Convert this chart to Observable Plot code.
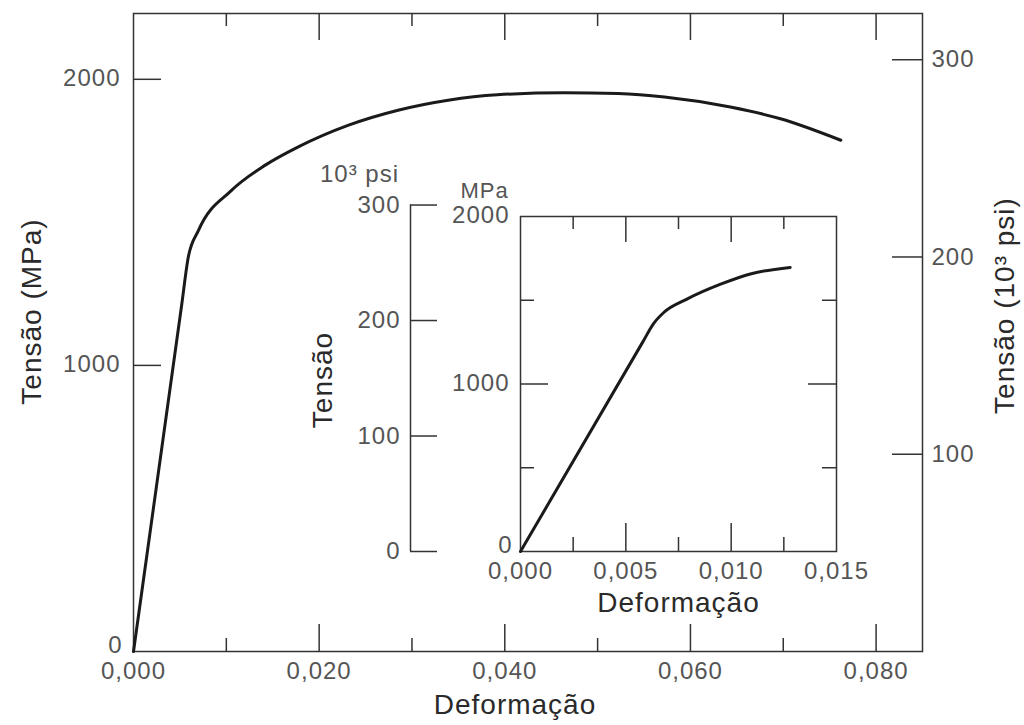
<!DOCTYPE html>
<html><head><meta charset="utf-8">
<script src="https://cdn.jsdelivr.net/npm/d3@7"></script>
<script src="https://cdn.jsdelivr.net/npm/@observablehq/plot@0.6"></script>
<style>
html,body{margin:0;padding:0;background:#fff;}
#wrap{position:relative;width:1024px;height:725px;overflow:hidden;background:#fff;}
#wrap svg{position:absolute;overflow:visible;}
</style></head><body><div id="wrap"></div>
<script>
// Main curve (strain, stress MPa)
const mainStrain = [0, 0.0052, 0.0059, 0.0070, 0.0105, 0.0142, 0.0177, 0.0231, 0.0285, 0.0339, 0.0392, 0.0464, 0.0522, 0.0572, 0.0643, 0.0697, 0.0762];
const mainStress = [0, 1214, 1378, 1472, 1610, 1700, 1763, 1839, 1892, 1927, 1946, 1953, 1950, 1938, 1903, 1862, 1787];
// Inset curve
const insetStrain = [0, 0.0058, 0.0063, 0.0068, 0.0079, 0.0095, 0.0110, 0.0128];
const insetStress = [0, 1250, 1358, 1427, 1507, 1596, 1660, 1696];
// Ticks
const mainXTicks = [0, 0.02, 0.04, 0.06, 0.08];
const mainXMinor = [0.01, 0.03, 0.05, 0.07];
const mainYTicks = [0, 1000, 2000];
const psiTicks = [100, 200, 300];
const insetXTicks = [0, 0.005, 0.010, 0.015];
const insetXMinor = [0.0025, 0.0075, 0.0125];
const insetYTicks = [0, 1000, 2000];
const insetYMinor = [500, 1500];
const insetPsiTicks = [0, 100, 200, 300];
const MPA_PER_KSI = 6.89476;

const fmtStrain = d => d.toFixed(3).replace(".", ",");
const toMPa = k => k * MPA_PER_KSI;
const LINE = "#333";
const TXT = "#555";
const TITLE = "#2a2a2a";
const FONT = "'Liberation Sans', Arial, sans-serif";

const wrap = document.getElementById("wrap");

// ---------- Main chart ----------
const W = 1024, H = 725, mL = 133, mR = 102, mT = 13, mB = 74;
const iW = W - mL - mR, iH = H - mT - mB;
const mainData = mainStrain.map((s, i) => ({s, t: mainStress[i]}));

const main = Plot.plot({
  width: W, height: H,
  marginLeft: mL, marginRight: mR, marginTop: mT, marginBottom: mB,
  style: {fontFamily: FONT, fontSize: "24px", letterSpacing: "1px", background: "transparent"},
  x: {domain: [0, 0.085]},
  y: {domain: [0, 2230]},
  marks: [
    Plot.frame({stroke: LINE, strokeWidth: 1.5}),
    Plot.tickY(mainYTicks.filter(d => d > 0), {y: d => d, insetRight: iW - 28, stroke: LINE, strokeWidth: 1.5}),
    Plot.tickY(psiTicks.map(toMPa), {y: d => d, insetLeft: iW - 30, stroke: LINE, strokeWidth: 1.5}),
    Plot.tickX(mainXTicks.filter(d => d > 0), {x: d => d, insetBottom: iH - 27, stroke: LINE, strokeWidth: 1.5}),
    Plot.tickX(mainXMinor, {x: d => d, insetBottom: iH - 13, stroke: LINE, strokeWidth: 1.5}),
    Plot.tickX(mainXTicks.filter(d => d > 0), {x: d => d, insetTop: iH - 27, stroke: LINE, strokeWidth: 1.5}),
    Plot.tickX(mainXMinor, {x: d => d, insetTop: iH - 13, stroke: LINE, strokeWidth: 1.5}),
    Plot.line(mainData, {x: "s", y: "t", stroke: "#1a1a1a", strokeWidth: 3, curve: "monotone-x"}),
    Plot.axisX({ticks: mainXTicks, tickFormat: fmtStrain, tickSize: 0, tickPadding: 10, label: null, fill: TXT, fontSize: 24}),
    Plot.axisY({anchor: "left", ticks: mainYTicks.filter(d => d > 0), tickFormat: d => String(d), tickSize: 0, tickPadding: 13, dy: -1, label: null, fill: TXT, fontSize: 24}),
    Plot.axisY({anchor: "left", ticks: [0], tickFormat: d => String(d), tickSize: 0, tickPadding: 11, dy: -6, label: null, fill: TXT, fontSize: 24}),
    Plot.axisY({anchor: "right", ticks: psiTicks.map(toMPa), tickFormat: d => String(Math.round(d / MPA_PER_KSI)), tickSize: 0, tickPadding: 9, label: null, fill: TXT, fontSize: 24}),
    Plot.text(["Tensão (MPa)"], {frameAnchor: "left", textAnchor: "middle", lineAnchor: "middle", dx: -101, dy: -21, rotate: -90, fontSize: 28, fill: TITLE, ariaLabel: "title"}),
    Plot.text(["Tensão (10³ psi)"], {frameAnchor: "right", textAnchor: "middle", lineAnchor: "middle", dx: 83, dy: -27, rotate: -90, fontSize: 28, fill: TITLE, ariaLabel: "title"}),
    Plot.text(["Deformação"], {frameAnchor: "bottom", textAnchor: "middle", lineAnchor: "middle", dx: -13, dy: 54, fontSize: 28, fill: TITLE, ariaLabel: "title"})
  ]
});
main.style.left = "0px"; main.style.top = "0px";
wrap.appendChild(main);

// ---------- Inset chart ----------
const IL = 280, IT = 140;
const IW = 620, IH = 500, imL = 240, imR = 64, imT = 76, imB = 89;
const iiW = IW - imL - imR, iiH = IH - imT - imB;
const insetData = insetStrain.map((s, i) => ({s, t: insetStress[i]}));
const psiDx = -110;

const inset = Plot.plot({
  width: IW, height: IH,
  marginLeft: imL, marginRight: imR, marginTop: imT, marginBottom: imB,
  style: {fontFamily: FONT, fontSize: "24px", letterSpacing: "1px", background: "transparent"},
  x: {domain: [0, 0.015]},
  y: {domain: [0, 2000]},
  marks: [
    Plot.frame({stroke: LINE, strokeWidth: 1.5}),
    Plot.tickY([1000], {y: d => d, insetRight: iiW - 28, stroke: LINE, strokeWidth: 1.5}),
    Plot.tickY(insetYMinor, {y: d => d, insetRight: iiW - 14, stroke: LINE, strokeWidth: 1.5}),
    Plot.tickY([1000], {y: d => d, insetLeft: iiW - 28, stroke: LINE, strokeWidth: 1.5}),
    Plot.tickY(insetYMinor, {y: d => d, insetLeft: iiW - 14, stroke: LINE, strokeWidth: 1.5}),
    Plot.tickX([0.005, 0.010], {x: d => d, insetBottom: iiH - 26, stroke: LINE, strokeWidth: 1.5}),
    Plot.tickX(insetXMinor, {x: d => d, insetBottom: iiH - 13, stroke: LINE, strokeWidth: 1.5}),
    Plot.tickX([0.005, 0.010], {x: d => d, insetTop: iiH - 28, stroke: LINE, strokeWidth: 1.5}),
    Plot.tickX(insetXMinor, {x: d => d, insetTop: iiH - 14, stroke: LINE, strokeWidth: 1.5}),
    Plot.ruleX([0], {x: d => d, y1: 0, y2: toMPa(300), dx: psiDx, stroke: LINE, strokeWidth: 1.5}),
    Plot.tickY(insetPsiTicks.map(toMPa), {y: d => d, dx: psiDx, insetRight: iiW - 27, stroke: LINE, strokeWidth: 1.5}),
    Plot.axisY({anchor: "left", ticks: insetPsiTicks.map(toMPa), tickFormat: d => String(Math.round(d / MPA_PER_KSI)), tickSize: 0, tickPadding: 10, dx: psiDx, label: null, fill: TXT, fontSize: 24}),
    Plot.line(insetData, {x: "s", y: "t", stroke: "#1a1a1a", strokeWidth: 3, curve: "monotone-x"}),
    Plot.axisX({ticks: insetXTicks, tickFormat: fmtStrain, tickSize: 0, tickPadding: 10, label: null, fill: TXT, fontSize: 24}),
    Plot.axisY({anchor: "left", ticks: insetYTicks.filter(d => d > 0), tickFormat: d => String(d), tickSize: 0, tickPadding: 11, dy: -1, label: null, fill: TXT, fontSize: 24}),
    Plot.axisY({anchor: "left", ticks: [0], tickFormat: d => String(d), tickSize: 0, tickPadding: 8, dy: -6, label: null, fill: TXT, fontSize: 24}),
    Plot.text(["MPa"], {frameAnchor: "top-left", textAnchor: "middle", lineAnchor: "middle", dx: -36, dy: -26, fontSize: 22, fill: TXT}),
    Plot.text(["10³ psi"], {frameAnchor: "top-left", textAnchor: "middle", lineAnchor: "middle", dx: -161, dy: -42, fontSize: 24, fill: TXT}),
    Plot.text(["Tensão"], {frameAnchor: "left", textAnchor: "middle", lineAnchor: "middle", dx: -197, dy: -4, rotate: -90, fontSize: 28, fill: TITLE, ariaLabel: "title"}),
    Plot.text(["Deformação"], {frameAnchor: "bottom", textAnchor: "middle", lineAnchor: "middle", dy: 52, fontSize: 28, fill: TITLE, ariaLabel: "title"})
  ]
});
inset.style.left = IL + "px"; inset.style.top = IT + "px";
wrap.appendChild(inset);

document.querySelectorAll('g[aria-label="title"] text').forEach(t => { t.style.letterSpacing = "1.5px"; });
</script>
</body></html>
